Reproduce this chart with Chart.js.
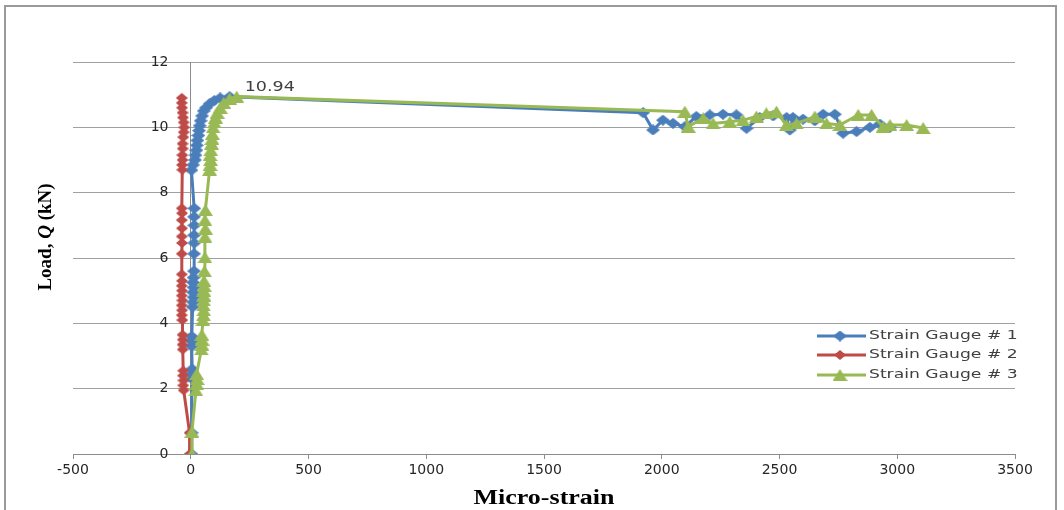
<!DOCTYPE html>
<html>
<head>
<meta charset="utf-8">
<script src="https://cdn.jsdelivr.net/npm/chart.js@4/dist/chart.umd.min.js"></script>
<style>
  body { margin: 0; background: #fff; }
  #wrap { position: relative; width: 1064px; height: 510px; overflow: hidden; background: #fff; }
  #chart { position: absolute; left: 0; top: 0; }
  #frame { position: absolute; left: 4px; top: 5px; width: 1053px; height: 530px; border: 2px solid #9a9a9a; box-sizing: border-box; pointer-events: none; }
  .ytitle { position: absolute; left: 45px; top: 237px; transform: translate(-50%, -50%) rotate(-90deg); white-space: nowrap;
    font: bold 19px "Liberation Serif", "Times New Roman", serif; color: #000; }
  .xtitle { position: absolute; left: 544px; top: 497px; transform: translate(-50%, -50%) scaleX(1.3); white-space: nowrap;
    font: bold 20px "Liberation Serif", "Times New Roman", serif; color: #000; }
</style>
</head>
<body>
<div id="wrap">
  <canvas id="chart" width="1064" height="510"></canvas>
  <div id="frame"></div>
  <div class="ytitle">Load, <i>Q</i> (kN)</div>
  <div class="xtitle">Micro-strain</div>
</div>
<script>
// values (micro-strain vs load in kN)
const sg1Strain = [3, 4, 5, 4, 6, 4, 5, 4, 8, 10, 12, 10, 12, 10, 12, 14, 14, 15, 14, 15, 14, 15,
  3, 10, 18, 20, 24, 26, 28, 32, 35, 38, 42, 48, 55, 65, 80, 100, 125, 165,
  1921, 1963, 2005, 2048, 2098, 2147, 2204, 2260, 2317, 2360, 2416, 2473, 2530, 2544,
  2557, 2600, 2650, 2685, 2735, 2770, 2827, 2884, 2926, 2969];
const sg1Load = [0, 0.65, 2.3, 2.45, 2.6, 3.3, 3.45, 3.6, 4.5, 4.65, 4.8, 4.95, 5.1, 5.25, 5.4, 5.6, 6.13, 6.46, 6.7, 7.0, 7.26, 7.52,
  8.69, 8.85, 9.0, 9.15, 9.3, 9.45, 9.6, 9.75, 9.9, 10.05, 10.2, 10.35, 10.5, 10.6, 10.72, 10.82, 10.9, 10.94,
  10.45, 9.92, 10.22, 10.12, 10.02, 10.33, 10.38, 10.4, 10.38, 9.97, 10.3, 10.35, 10.3, 9.92,
  10.3, 10.25, 10.2, 10.4, 10.4, 9.82, 9.87, 10.0, 10.1, 10.0];

const sg2Strain = [-4, -5, -30, -32, -31, -33, -32, -34, -35, -34, -35,
  -36, -38, -37, -38, -36, -38, -37, -38, -37, -38,
  -38, -37, -38, -37, -38, -37, -38,
  -36, -37, -35, -36, -34, -35, -32, -30, -28, -30, -33, -35, -37, -38, -38];
const sg2Load = [0, 0.65, 1.95, 2.1, 2.25, 2.4, 2.55, 3.2, 3.35, 3.5, 3.65,
  4.1, 4.25, 4.4, 4.55, 4.7, 4.85, 5.0, 5.15, 5.3, 5.5,
  6.13, 6.46, 6.66, 6.91, 7.16, 7.37, 7.52,
  8.7, 8.85, 9.0, 9.15, 9.35, 9.5, 9.7, 9.85, 10.0, 10.15, 10.3, 10.45, 10.6, 10.75, 10.9];

const sg3Strain = [5, 5, 22, 25, 27, 25, 45, 47, 48, 47,
  52, 54, 55, 54, 55, 56, 55, 57, 56, 58, 60, 60, 62, 60, 62,
  80, 82, 84, 82, 85, 88, 90, 92, 95, 100, 105, 112, 125, 140, 165, 195,
  2098, 2112, 2176, 2218, 2289, 2345, 2402, 2444, 2487, 2529, 2572,
  2650, 2700, 2756, 2834, 2891, 2940, 2969, 3040, 3110];
const sg3Load = [0, 0.68, 1.95, 2.15, 2.3, 2.45, 3.2, 3.35, 3.5, 3.65,
  4.1, 4.25, 4.4, 4.55, 4.7, 4.85, 5.0, 5.15, 5.3, 5.6, 6.02, 6.65, 6.9, 7.16, 7.47,
  8.7, 8.85, 9.0, 9.15, 9.3, 9.5, 9.65, 9.8, 10.0, 10.15, 10.3, 10.45, 10.6, 10.75, 10.88, 10.94,
  10.48, 10.02, 10.28, 10.12, 10.17, 10.22, 10.33, 10.43, 10.48, 10.07, 10.12,
  10.33, 10.12, 10.07, 10.38, 10.38, 10.02, 10.07, 10.07, 9.98];

const seriesNames = ["Strain Gauge # 1", "Strain Gauge # 2", "Strain Gauge # 3"];
const peakLabel = "10.94";
const xTicks = { min: -500, max: 3500, step: 500 };
const yTicks = { min: 0, max: 12, step: 2 };

const COLORS = { blue: "#4A7EBB", red: "#BE4B48", green: "#98B954", grid: "#a0a0a0", axis: "#8c8c8c", text: "#262626" };

const toPoints = (xs, ys) => xs.map((x, i) => ({ x, y: ys[i] }));

// the original markers are a bit wider than tall, so build them as small canvases
function makeMarker(shape, w, h, color) {
  const c = document.createElement("canvas");
  c.width = w;
  c.height = h;
  const g = c.getContext("2d");
  g.fillStyle = color;
  g.beginPath();
  if (shape === "diamond") {
    g.moveTo(w / 2, 0); g.lineTo(w, h / 2); g.lineTo(w / 2, h); g.lineTo(0, h / 2);
  } else {
    g.moveTo(w / 2, 0); g.lineTo(w, h); g.lineTo(0, h);
  }
  g.closePath();
  g.fill();
  return c;
}

const markers = {
  blue: makeMarker("diamond", 14, 11, COLORS.blue),
  red: makeMarker("diamond", 12, 10, COLORS.red),
  green: makeMarker("triangle", 15, 12, COLORS.green),
};

function series(label, xs, ys, color, marker, order) {
  return {
    label,
    data: toPoints(xs, ys),
    showLine: true,
    borderColor: color,
    backgroundColor: color,
    borderWidth: 3,
    pointStyle: marker,
    pointRadius: 6,
    order,
  };
}

// hand-drawn legend and peak label (the built-in legend can't sit inside the plot)
const overlayPlugin = {
  id: "overlay",
  afterDraw(chart) {
    const ctx = chart.ctx;
    ctx.save();
    // peak value label next to the green peak point
    const meta = chart.getDatasetMeta(0);
    const peakIdx = sg3Load.indexOf(Math.max(...sg3Load));
    const pt = meta.data[peakIdx];
    ctx.fillStyle = "#404040";
    ctx.font = '14px "DejaVu Sans"';
    ctx.textBaseline = "middle";
    ctx.save();
    ctx.translate(pt.x + 8, pt.y - 9);
    ctx.scale(1.25, 1);
    ctx.fillText(peakLabel, 0, 0);
    ctx.restore();

    const rows = [
      { name: seriesNames[0], color: COLORS.blue, marker: markers.blue, y: 336 },
      { name: seriesNames[1], color: COLORS.red, marker: markers.red, y: 355 },
      { name: seriesNames[2], color: COLORS.green, marker: markers.green, y: 375 },
    ];
    rows.forEach((row) => {
      ctx.strokeStyle = row.color;
      ctx.lineWidth = 3;
      ctx.beginPath();
      ctx.moveTo(817, row.y);
      ctx.lineTo(866, row.y);
      ctx.stroke();
      ctx.drawImage(row.marker, 840 - row.marker.width / 2, row.y - row.marker.height / 2);
      ctx.fillStyle = "#404040";
      ctx.font = '13px "DejaVu Sans"';
      ctx.textBaseline = "middle";
      ctx.save();
      ctx.translate(869, row.y);
      ctx.scale(1.32, 1);
      ctx.fillText(row.name, 0, 0);
      ctx.restore();
    });
    ctx.restore();
  },
};

new Chart(document.getElementById("chart"), {
  type: "scatter",
  data: {
    datasets: [
      series(seriesNames[2], sg3Strain, sg3Load, COLORS.green, markers.green, 1),
      series(seriesNames[1], sg2Strain, sg2Load, COLORS.red, markers.red, 2),
      series(seriesNames[0], sg1Strain, sg1Load, COLORS.blue, markers.blue, 3),
    ],
  },
  options: {
    responsive: false,
    animation: false,
    layout: { padding: { left: 73, right: 49, top: 62, bottom: 0 } },
    plugins: { legend: { display: false }, tooltip: { enabled: false } },
    scales: {
      x: {
        type: "linear",
        position: "bottom",
        min: xTicks.min,
        max: xTicks.max,
        ticks: {
          stepSize: xTicks.step,
          color: COLORS.text,
          padding: 3,
          font: { family: "DejaVu Sans", size: 14 },
          callback: (v) => String(v),
        },
        grid: { drawOnChartArea: false, tickLength: 5, color: COLORS.axis },
        border: { color: COLORS.axis, width: 1 },
        afterFit: (s) => { s.height = 56; },
      },
      y: {
        type: "linear",
        position: { x: 0 },
        min: yTicks.min,
        max: yTicks.max,
        ticks: {
          stepSize: yTicks.step,
          color: COLORS.text,
          padding: 0,
          font: { family: "DejaVu Sans", size: 14 },
          callback: (v) => v + "     ",
        },
        grid: { color: COLORS.grid, tickLength: 6 },
        border: { color: COLORS.axis, width: 1 },
      },
    },
  },
  plugins: [overlayPlugin],
});
</script>
</body>
</html>
